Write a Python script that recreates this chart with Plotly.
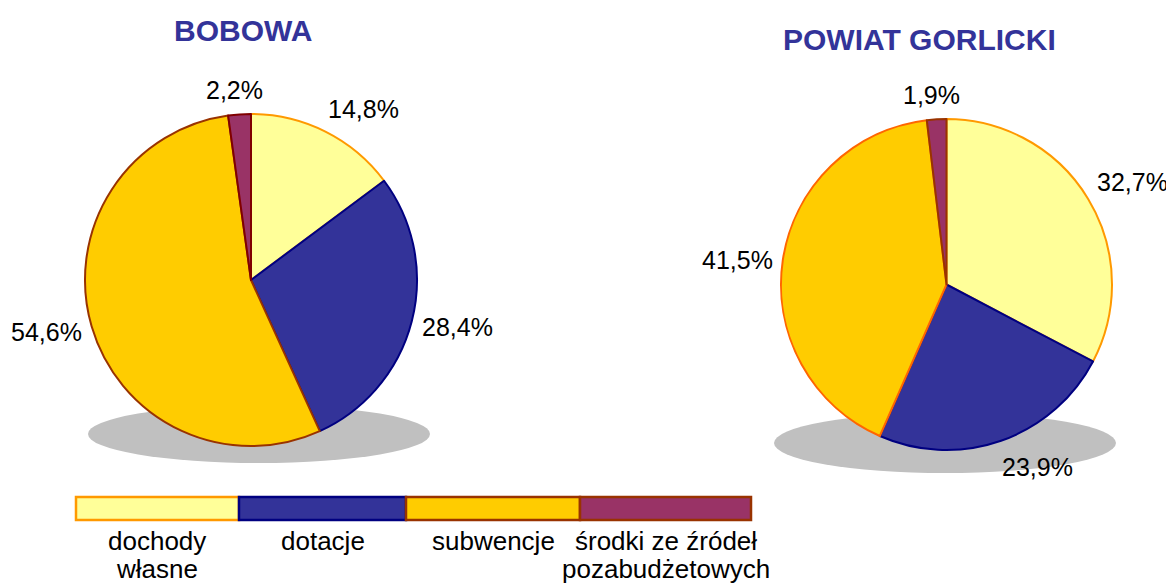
import math
import plotly.graph_objects as go

# ---- data ----
categories = ["dochody własne", "dotacje", "subwencje", "środki ze źródeł pozabudżetowych"]
legend_lines = [["dochody", "własne"], ["dotacje"], ["subwencje"], ["środki ze źródeł", "pozabudżetowych"]]
bobowa_values = [14.8, 28.4, 54.6, 2.2]
powiat_values = [32.7, 23.9, 41.5, 1.9]
titles = ["BOBOWA", "POWIAT GORLICKI"]

# ---- styles ----
fill_colors = ["#FFFF99", "#333399", "#FFCC00", "#993366"]
bobowa_borders = ["#FF9900", "#000080", "#993300", "#800000"]
powiat_borders = ["#FF9900", "#000080", "#FF6600", "#993300"]
legend_borders = ["#FF9900", "#000080", "#993300", "#993300"]
FONT = "Liberation Sans, Arial, sans-serif"
TITLE_COLOR = "#333399"
SHADOW = "#C0C0C0"

OFF = 8  # page body margin
W, H = 1174 - OFF, 586 - OFF


def px(x):
    return (x - OFF) / W


def py(y):
    return 1 - (y - OFF) / H


def fmt(v):
    return f"{v:.1f}".replace(".", ",") + "%"


# pie geometry (pixels in the window): center x, center y, radius
pies = [
    dict(values=bobowa_values, borders=bobowa_borders, cx=251, cy=280, r=166,
         title=titles[0], tx=243, ty=30, shadow=(88, 405, 430, 463)),
    dict(values=powiat_values, borders=powiat_borders, cx=946.5, cy=284.5, r=165.5,
         title=titles[1], tx=919, ty=40, shadow=(774, 413, 1116, 473)),
]

fig = go.Figure()
annotations = []
shapes = []

for p in pies:
    cx, cy, r = p["cx"], p["cy"], p["r"]
    fig.add_trace(go.Pie(
        labels=categories,
        values=p["values"],
        sort=False,
        direction="clockwise",
        rotation=0,
        textinfo="none",
        hoverinfo="label+percent",
        marker=dict(colors=fill_colors, line=dict(color=p["borders"], width=2)),
        domain=dict(x=[px(cx - r), px(cx + r)], y=[py(cy + r), py(cy - r)]),
        showlegend=False,
    ))
    # shadow ellipse
    x0, y0, x1, y1 = p["shadow"]
    shapes.append(dict(type="circle", xref="paper", yref="paper",
                       x0=px(x0), x1=px(x1), y0=py(y1), y1=py(y0),
                       fillcolor=SHADOW, line=dict(width=0), layer="below"))
    # title
    annotations.append(dict(text=f"<b>{p['title']}</b>", x=px(p["tx"]), y=py(p["ty"]),
                            xref="paper", yref="paper", showarrow=False,
                            xanchor="center", yanchor="middle",
                            font=dict(family=FONT, size=30, color=TITLE_COLOR)))
    # slice labels, positioned from slice mid-angles
    total = sum(p["values"])
    cum = 0
    R = r + 15
    for v in p["values"]:
        mid = (cum + v / 2) / total * 2 * math.pi
        cum += v
        s, c = math.sin(mid), math.cos(mid)
        lx = cx + R * s
        ly = cy - R * c
        xa = "left" if s > 0.3 else ("right" if s < -0.3 else "center")
        ya = "bottom" if c > 0.3 else ("top" if c < -0.3 else "middle")
        lx += {"left": -5, "right": 6, "center": -4}[xa]
        ly += {"bottom": 6, "top": -3, "middle": 2}[ya]
        annotations.append(dict(text=fmt(v), x=px(lx), y=py(ly), xref="paper", yref="paper",
                                showarrow=False, xanchor=xa, yanchor=ya, borderpad=0,
                                font=dict(family=FONT, size=25, color="#000000")))

# legend bar
seg_edges = [76, 239, 406, 580, 751]
leg_top, leg_bot = 497, 520
line_y = [541, 569]
for i, lines in enumerate(legend_lines):
    shapes.append(dict(type="rect", xref="paper", yref="paper",
                       x0=px(seg_edges[i]), x1=px(seg_edges[i + 1]),
                       y0=py(leg_bot), y1=py(leg_top),
                       fillcolor=fill_colors[i], line=dict(color=legend_borders[i], width=2.5)))
    for j, txt in enumerate(lines):
        annotations.append(dict(text=txt, x=px((seg_edges[i] + seg_edges[i + 1]) / 2), y=py(line_y[j]),
                                xref="paper", yref="paper", showarrow=False,
                                xanchor="center", yanchor="middle",
                                font=dict(family=FONT, size=26, color="#000000")))

fig.update_layout(
    width=W, height=H,
    margin=dict(l=0, r=0, t=0, b=0),
    paper_bgcolor="white", plot_bgcolor="white",
    showlegend=False,
    shapes=shapes,
    annotations=annotations,
    font=dict(family=FONT),
)

fig.write_html("out.html")
